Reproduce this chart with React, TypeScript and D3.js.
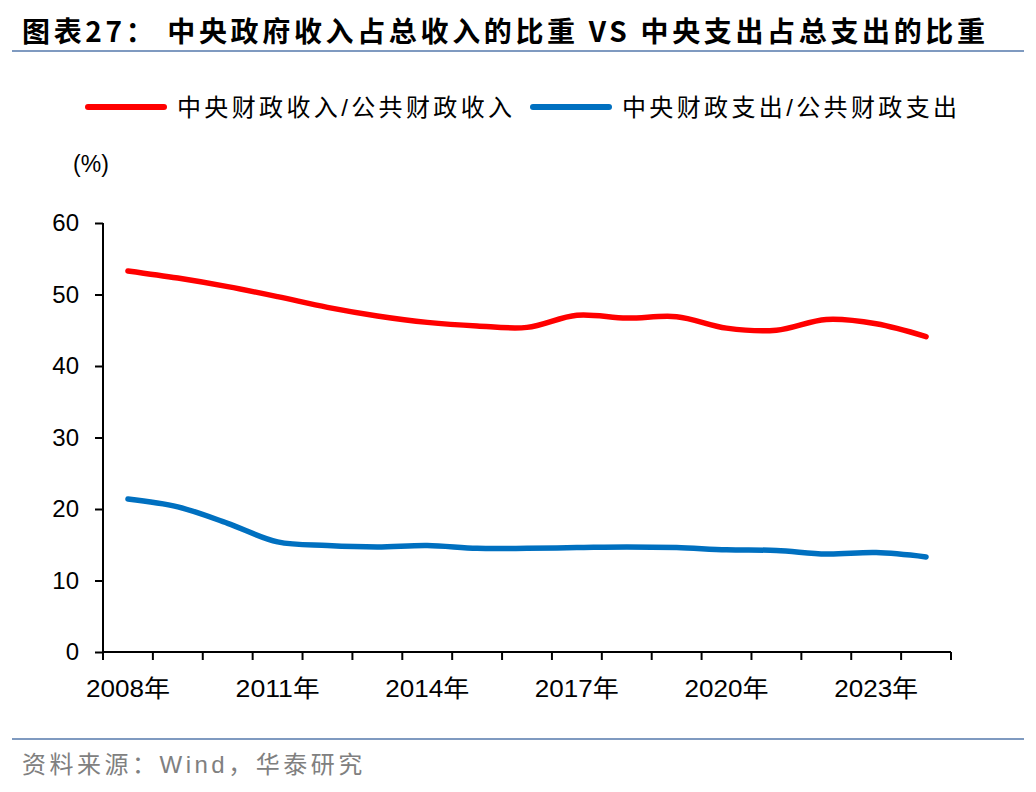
import * as d3 from "d3";
import { useEffect, useRef } from "react";

const years = d3.range(2008, 2025).map(String);
const yTicks = [0, 10, 20, 30, 40, 50, 60];
const labelYears = ["2008", "2011", "2014", "2017", "2020", "2023"];

const revenueShare = [
  53.3, 52.3, 51.1, 49.7, 48.2, 47.0, 46.1, 45.6, 45.4, 47.1, 46.7, 46.9, 45.3,
  45.0, 46.5, 45.9, 44.1,
];
const expenditureShare = [
  21.4, 20.3, 18.0, 15.4, 14.9, 14.7, 14.9, 14.5, 14.5, 14.6, 14.7, 14.6, 14.3,
  14.2, 13.7, 13.9, 13.3,
];

const seriesNames = ["中央财政收入/公共财政收入", "中央财政支出/公共财政支出"];
const seriesColors = ["#FF0000", "#0070C0"];

const FONT = "Arial, 'Liberation Sans', 'Noto Sans CJK SC', sans-serif";

function App() {
  const ref = useRef<SVGSVGElement>(null);

  useEffect(() => {
    const svg = d3.select(ref.current);
    svg.selectAll("*").remove();

    const left = 103,
      right = 951,
      top = 223,
      bottom = 652;

    // title
    svg
      .append("text")
      .attr("x", 22)
      .attr("y", 42)
      .attr("textLength", 963)
      .attr("lengthAdjust", "spacing")
      .style("font-family", "'Noto Sans CJK SC', sans-serif")
      .style("font-weight", "bold")
      .style("font-size", "28px")
      .text("图表27：  中央政府收入占总收入的比重 VS 中央支出占总支出的比重");

    svg
      .append("line")
      .attr("x1", 12)
      .attr("x2", 1024)
      .attr("y1", 51)
      .attr("y2", 51)
      .attr("stroke", "#7F9AC0")
      .attr("stroke-width", 2);

    // legend
    const legendX = [88, 533];
    seriesNames.forEach((name, i) => {
      const g = svg.append("g").attr("transform", `translate(${legendX[i]},107)`);
      g.append("line")
        .attr("x1", 0)
        .attr("x2", 76)
        .attr("stroke", seriesColors[i])
        .attr("stroke-width", 6)
        .attr("stroke-linecap", "round");
      g.append("text")
        .attr("x", 89)
        .attr("y", 9)
        .attr("textLength", 335)
        .attr("lengthAdjust", "spacing")
        .style("font-family", FONT)
        .style("font-size", "24px")
        .text(name);
    });

    const x = d3.scaleBand().domain(years).range([left, right]);
    const y = d3.scaleLinear().domain([0, 60]).range([bottom, top]);

    // y axis
    const yAxis = svg
      .append("g")
      .attr("transform", `translate(${left},0)`)
      .call(
        d3
          .axisLeft(y)
          .tickValues(yTicks)
          .tickSize(8)
          .tickPadding(16)
          .tickFormat(d3.format("d"))
      );
    yAxis
      .select(".domain")
      .attr("stroke", "#000")
      .attr("stroke-width", 2)
      .attr("d", `M0,${top}V${bottom}`);
    yAxis.selectAll(".tick line").attr("stroke-width", 2);
    yAxis
      .selectAll(".tick text")
      .style("font-family", FONT)
      .style("font-size", "24px")
      .attr("fill", "#000");

    svg
      .append("text")
      .attr("x", 91)
      .attr("y", 172)
      .attr("text-anchor", "middle")
      .style("font-family", FONT)
      .style("font-size", "23px")
      .text("(%)");

    // x axis
    const xg = svg.append("g").attr("transform", `translate(0,${bottom})`);
    xg.append("line")
      .attr("x1", left)
      .attr("x2", right)
      .attr("stroke", "#000")
      .attr("stroke-width", 2);
    const bounds = years.map((yr) => x(yr)!).concat([right]);
    xg.selectAll("line.tk")
      .data(bounds)
      .join("line")
      .attr("class", "tk")
      .attr("x1", (d) => d)
      .attr("x2", (d) => d)
      .attr("y1", 0)
      .attr("y2", 8)
      .attr("stroke", "#000")
      .attr("stroke-width", 2);
    xg.selectAll("text")
      .data(labelYears)
      .join("text")
      .attr("x", (d) => x(d)! + x.bandwidth() / 2)
      .attr("y", 45)
      .attr("text-anchor", "middle")
      .attr("textLength", 84)
      .attr("lengthAdjust", "spacingAndGlyphs")
      .style("font-family", FONT)
      .style("font-size", "24px")
      .text((d) => d + "年");

    // lines
    const line = d3
      .line<number>()
      .x((_, i) => x(years[i])! + x.bandwidth() / 2)
      .y((d) => y(d))
      .curve(d3.curveCatmullRom.alpha(0.5));

    [revenueShare, expenditureShare].forEach((vals, i) => {
      svg
        .append("path")
        .attr("d", line(vals))
        .attr("fill", "none")
        .attr("stroke", seriesColors[i])
        .attr("stroke-width", 5.5)
        .attr("stroke-linecap", "round");
    });

    // footer
    svg
      .append("line")
      .attr("x1", 12)
      .attr("x2", 1024)
      .attr("y1", 739)
      .attr("y2", 739)
      .attr("stroke", "#7F9AC0")
      .attr("stroke-width", 2);

    svg
      .append("text")
      .attr("x", 22)
      .attr("y", 773)
      .style("font-family", FONT)
      .style("font-size", "24px")
      .style("letter-spacing", "3.5px")
      .attr("fill", "#808080")
      .text("资料来源：Wind，华泰研究");
  }, []);

  return (
    <svg
      ref={ref}
      width={1036}
      height={792}
      style={{ position: "absolute", left: 0, top: 0, background: "#fff" }}
    />
  );
}

export default App;
